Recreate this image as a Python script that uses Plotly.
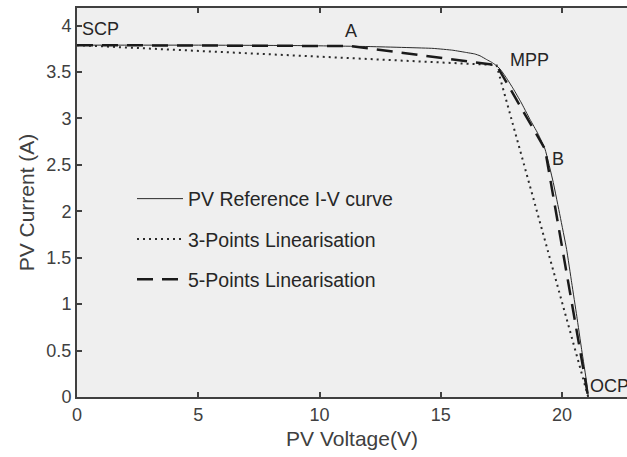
import plotly.graph_objects as go

# Reference I-V curve
ref_v = [0, 5, 9.2, 12, 14.68, 15.5, 16.07, 16.4, 16.62, 16.89, 17.1, 17.24, 17.44, 17.7, 17.99,
         18.3, 18.68, 19.0, 19.3, 19.64, 19.92, 20.19, 20.4, 20.61, 20.81, 21.02, 21.08]
ref_i = [3.79, 3.79, 3.785, 3.775, 3.755, 3.735, 3.71, 3.695, 3.675, 3.635, 3.605, 3.58, 3.535,
         3.44, 3.32, 3.18, 2.99, 2.84, 2.67, 2.31, 1.95, 1.59, 1.23, 0.87, 0.51, 0.15, 0.0]

# 3-point linearisation: SCP, MPP, OCP
p3_v = [0, 17.3, 21.08]
p3_i = [3.79, 3.575, 0.0]

# 5-point linearisation: SCP, A, MPP, B, OCP
p5_v = [0, 11.26, 17.3, 19.3, 21.08]
p5_i = [3.79, 3.78, 3.575, 2.67, 0.0]

# Point labels
lbl_text = ["SCP", "A", "MPP", "B", "OCP"]
lbl_v = [0.21, 11.05, 17.86, 19.59, 21.15]
lbl_i = [3.96, 3.94, 3.63, 2.56, 0.12]

font_family = "Liberation Sans, Arial, sans-serif"
axis_col = "#404040"

fig = go.Figure()
fig.add_trace(go.Scatter(x=ref_v, y=ref_i, mode="lines", name="PV Reference I-V curve",
                         line=dict(color="#2a2a2a", width=1, shape="spline", smoothing=0.4),
                         legendgroup="a"))
fig.add_trace(go.Scatter(x=p3_v, y=p3_i, mode="lines", name="3-Points Linearisation",
                         line=dict(color="#2a2a2a", width=2, dash="2px,4px"), legendgroup="b"))
fig.add_trace(go.Scatter(x=p5_v, y=p5_i, mode="lines", name="5-Points Linearisation",
                         line=dict(color="#1a1a1a", width=2.5, dash="16px,9px"), legendgroup="c"))

for t, x, y in zip(lbl_text, lbl_v, lbl_i):
    fig.add_annotation(x=x, y=y, text=t, showarrow=False, xanchor="left", yanchor="middle",
                       xshift=-2, font=dict(family=font_family, size=18, color="#262626"))

fig.update_layout(
    width=627, height=457,
    margin=dict(l=77, r=0, t=8, b=60),
    paper_bgcolor="white", plot_bgcolor="#efefef",
    font=dict(family=font_family, size=18, color=axis_col),
    showlegend=True,
    legend=dict(x=0.100, y=0.405, xanchor="left", yanchor="middle", bgcolor="rgba(0,0,0,0)",
                tracegroupgap=12, itemwidth=46,
                font=dict(size=19.5, color="#262626")),
    xaxis=dict(range=[0, 22.68], tickvals=[0, 5, 10, 15, 20], ticks="inside", ticklen=5,
               tickwidth=1.5, tickcolor=axis_col, showline=True, linecolor=axis_col, linewidth=2,
               mirror="ticks", showgrid=False, zeroline=False,
               tickfont=dict(size=18),
               title=dict(text="PV Voltage(V)", standoff=8, font=dict(size=21))),
    yaxis=dict(range=[0, 4.19], tickvals=[0, 0.5, 1, 1.5, 2, 2.5, 3, 3.5, 4],
               ticktext=["0", "0.5", "1", "1.5", "2", "2.5", "3", "3.5", "4"],
               ticks="inside", ticklen=5, tickwidth=1.5, tickcolor=axis_col, showline=True,
               linecolor=axis_col, linewidth=2, mirror=False, showgrid=False, zeroline=False,
               tickfont=dict(size=18),
               title=dict(text="PV Current (A)", standoff=6, font=dict(size=21))),
)

fig.write_html("out.html")
